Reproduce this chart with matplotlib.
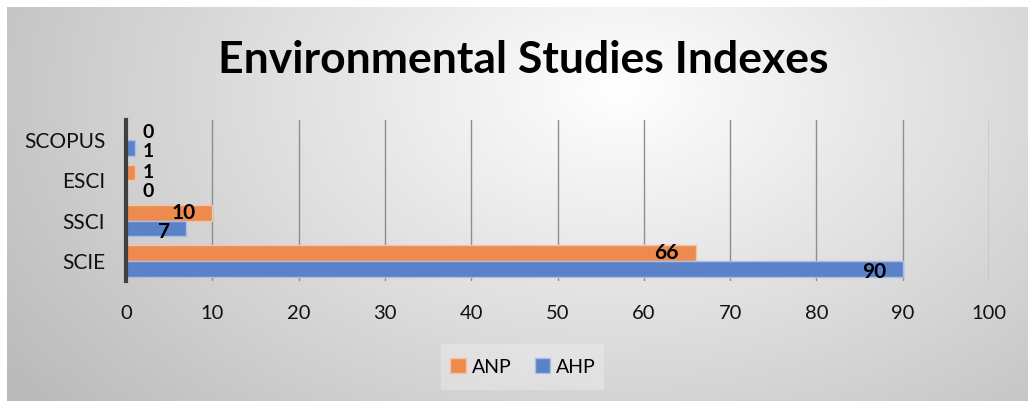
import numpy as np
import matplotlib.pyplot as plt
from matplotlib.patches import Rectangle

# data
categories = ["SCIE", "SSCI", "ESCI", "SCOPUS"]
anp_values = [66, 10, 1, 0]
ahp_values = [90, 7, 0, 1]
series_names = ["ANP", "AHP"]
x_ticks = [0, 10, 20, 30, 40, 50, 60, 70, 80, 90, 100]

anp_color = "#ED8B4E"
ahp_color = "#5B82C9"
plt.rcParams['font.family'] = ['Lato', 'DejaVu Sans']

W, H = 1028, 401
fig = plt.figure(figsize=(W / 100, H / 100), dpi=100)

# radial gradient background
bg = fig.add_axes([0, 0, 1, 1], zorder=-10)
yy, xx = np.mgrid[0:H, 0:W]
r = np.sqrt(((xx - 620) / 600.0) ** 2 + ((yy - 90) / 400.0) ** 2)
shade = 1.0 - 0.27 * np.clip(r, 0, 1.25) / 1.25
img = np.dstack([shade, shade, shade])
img[:7, :, :] = 1.0
img[:, :7, :] = 1.0
bg.imshow(img, aspect="auto", extent=[0, W, H, 0], interpolation="bilinear")
bg.set_xlim(0, W)
bg.set_ylim(H, 0)
bg.axis("off")

# lighter box behind the legend
bg.add_patch(Rectangle((441, 344), 163, 46, facecolor="white", alpha=0.25, edgecolor="none"))

ax = fig.add_axes([126 / W, 1 - 281 / H, (989 - 126) / W, (281 - 120) / H])
ax.patch.set_alpha(0)

y = np.arange(len(categories))
h = 0.39
bars_anp = ax.barh(y + h / 2, anp_values, height=h, color=anp_color,
                   edgecolor="#F6C3A4", linewidth=1.0, label=series_names[0], zorder=3)
bars_ahp = ax.barh(y - h / 2, ahp_values, height=h, color=ahp_color,
                   edgecolor="#A9BFE6", linewidth=1.0, label=series_names[1], zorder=3)

ax.set_xlim(0, 100)
ax.set_ylim(-0.5, 3.5)
ax.set_yticks(y)
ax.set_yticklabels(categories, fontsize=15, color="#111111")
ax.set_xticks(x_ticks)
ax.tick_params(axis="x", labelsize=14.5, colors="#111111", length=0, pad=17)
ax.tick_params(axis="y", length=0, pad=15)
ax.grid(axis="x", color="#8E8E8E", linewidth=1.0, zorder=0)
for s in ["top", "right", "bottom"]:
    ax.spines[s].set_visible(False)
ax.spines["left"].set_color("#404040")
ax.spines["left"].set_linewidth(3)
ax.spines["left"].set_zorder(4)


def label_bars(bars, values, dy):
    for b, v in zip(bars, values):
        yc = b.get_y() + b.get_height() / 2
        if v >= 5:
            ax.annotate(str(v), (v, yc), xytext=(-12, dy), textcoords="offset points",
                        ha="right", va="center", fontsize=15, fontweight="bold", zorder=5)
        else:
            ax.annotate(str(v), (0, yc), xytext=(16, dy), textcoords="offset points",
                        ha="center", va="center", fontsize=14, fontweight="bold", zorder=5)


label_bars(bars_anp, anp_values, 0)
label_bars(bars_ahp, ahp_values, -2.5)

fig.text(523 / W, 1 - 60 / H, "Environmental Studies Indexes", ha="center", va="center",
         fontsize=32, fontweight="bold", color="black")

fig.legend(handles=[bars_anp, bars_ahp], loc="center", bbox_to_anchor=(523 / W, 1 - 367 / H),
           ncol=2, frameon=False, fontsize=14, handlelength=0.8, handleheight=0.8,
           handletextpad=0.3, columnspacing=1.2)

fig.savefig("out.png", dpi=100)
